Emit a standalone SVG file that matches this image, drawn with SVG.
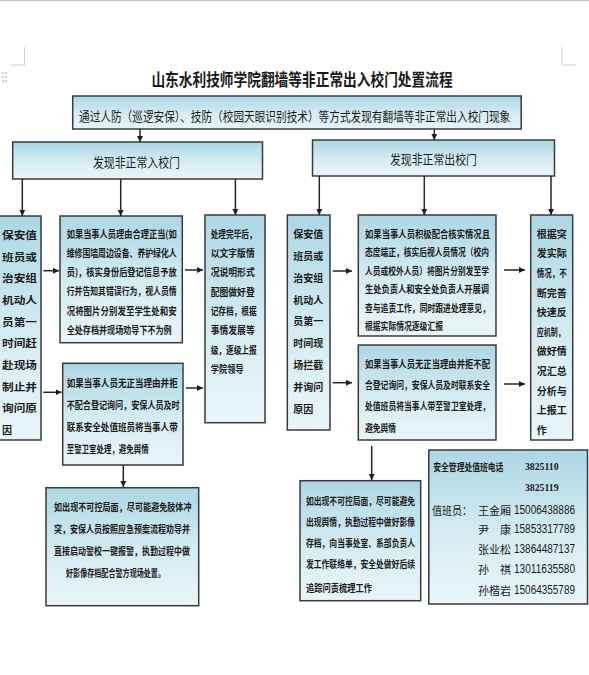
<svg xmlns="http://www.w3.org/2000/svg" width="589" height="675" viewBox="0 0 589 675">
<defs>
<linearGradient id="g" x1="0" y1="0" x2="0" y2="1">
<stop offset="0" stop-color="#acd7e4"/>
<stop offset="0.55" stop-color="#d6ecf2"/>
<stop offset="1" stop-color="#e9f5f8"/>
</linearGradient>
<marker id="a" viewBox="0 0 10 10" refX="10" refY="5" markerWidth="6" markerHeight="6" markerUnits="userSpaceOnUse" orient="auto">
<path d="M0,0 L10,5 L0,10 z" fill="#1e1e1e"/>
</marker>
<style>
.box{fill:url(#g);stroke:#3a3a3a;stroke-width:1.5}
text{fill:#1a1a1a;dominant-baseline:central}
.c{font-family:"Noto Sans CJK SC",sans-serif}
.s{font-family:"Liberation Serif","Noto Sans CJK SC",serif}
.d{font-family:"Liberation Sans Narrow","Liberation Sans",sans-serif;font-size:12.5px}
.b{font-size:10px;font-weight:bold}
.h{font-size:13px;font-weight:normal}
.n{font-size:11px;font-weight:normal}
.conn line{stroke:#262626;stroke-width:1.5;marker-end:url(#a)}
.deco{stroke:#cfcfcf;stroke-width:1;fill:none}
</style>
</defs>
<rect width="589" height="675" fill="#ffffff"/>
<line x1="0" y1="0.5" x2="589" y2="0.5" stroke="#c8c8c8" stroke-width="1.5"/>
<path class="deco" d="M24.5,47 V65 H10.5 M562,47 V65 H576"/>
<g fill="#9a9a9a">
<circle cx="3" cy="73" r="0.8"/><circle cx="6" cy="73" r="0.8"/>
<circle cx="3" cy="77" r="0.8"/><circle cx="6" cy="77" r="0.8"/>
<circle cx="3" cy="81" r="0.8"/><circle cx="6" cy="81" r="0.8"/>
</g>

<text id="title" class="c" transform="translate(302,78) scale(0.83,1)" x="0" y="0" font-size="16.5" font-weight="bold" text-anchor="middle">山东水利技师学院翻墙等非正常出入校门处置流程</text>

<g id="top">
<rect class="box" x="72.7" y="96" width="448.5" height="33"/>
<text class="c h" transform="translate(79,114.5) scale(0.82,1)" x="0" y="0">通过人防（巡逻安保）、技防（校园天眼识别技术）等方式发现有翻墙等非正常出入校门现象</text>
</g>

<g id="in-head">
<rect class="box" x="12.7" y="142" width="249.8" height="37"/>
<text class="c h" x="136.5" y="161" text-anchor="middle" textLength="87" lengthAdjust="spacingAndGlyphs">发现非正常入校门</text>
</g>
<g id="out-head">
<rect class="box" x="312.5" y="140" width="242" height="36"/>
<text class="c h" x="433.5" y="158" text-anchor="middle" textLength="87" lengthAdjust="spacingAndGlyphs">发现非正常出校门</text>
</g>

<g id="in-guard">
<rect class="box" x="-2" y="216" width="43" height="224"/>
<g class="c b">
<text x="2" y="234.3" textLength="35" lengthAdjust="spacingAndGlyphs">保安值</text>
<text x="2" y="256" textLength="35" lengthAdjust="spacingAndGlyphs">班员或</text>
<text x="2" y="277.7" textLength="35" lengthAdjust="spacingAndGlyphs">治安组</text>
<text x="2" y="299.4" textLength="35" lengthAdjust="spacingAndGlyphs">机动人</text>
<text x="2" y="321.1" textLength="35" lengthAdjust="spacingAndGlyphs">员第一</text>
<text x="2" y="342.8" textLength="35" lengthAdjust="spacingAndGlyphs">时间赶</text>
<text x="2" y="364.5" textLength="35" lengthAdjust="spacingAndGlyphs">赴现场</text>
<text x="2" y="386.2" textLength="35" lengthAdjust="spacingAndGlyphs">制止并</text>
<text x="2" y="407.9" textLength="35" lengthAdjust="spacingAndGlyphs">询问原</text>
<text x="2" y="429.6">因</text>
</g>
</g>

<g id="in-ok">
<rect class="box" x="60" y="216" width="122.3" height="126.7"/>
<g class="c b">
<text x="66.7" y="233.3" textLength="110" lengthAdjust="spacingAndGlyphs">如果当事人员理由合理正当(如</text>
<text x="66.7" y="252.5" textLength="110" lengthAdjust="spacingAndGlyphs">维修围墙周边设备、养护绿化人</text>
<text x="66.7" y="271.7" textLength="110" lengthAdjust="spacingAndGlyphs">员)，核实身份后登记信息予放</text>
<text x="66.7" y="290.9" textLength="110" lengthAdjust="spacingAndGlyphs">行并告知其错误行为，视人员情</text>
<text x="66.7" y="310.1" textLength="110" lengthAdjust="spacingAndGlyphs">况将图片分别发至学生处和安</text>
<text x="66.7" y="329.3" textLength="105" lengthAdjust="spacingAndGlyphs">全处存档并现场劝导下不为例</text>
</g>
</g>

<g id="in-refuse">
<rect class="box" x="62.7" y="363.3" width="120.3" height="101.7"/>
<g class="c b">
<text x="66.7" y="382" textLength="111" lengthAdjust="spacingAndGlyphs">如果当事人员无正当理由并拒</text>
<text x="66.7" y="404" textLength="113" lengthAdjust="spacingAndGlyphs">不配合登记询问，安保人员及时</text>
<text x="66.7" y="426" textLength="111" lengthAdjust="spacingAndGlyphs">联系安全处值班员将当事人带</text>
<text x="66.7" y="448" textLength="82" lengthAdjust="spacingAndGlyphs">至警卫室处理，避免舆情</text>
</g>
</g>

<g id="in-report">
<rect class="box" x="205" y="215" width="60" height="207.7"/>
<g class="c b">
<text x="210.7" y="233.3" textLength="46" lengthAdjust="spacingAndGlyphs">处理完毕后，</text>
<text x="210.7" y="252.6" textLength="44" lengthAdjust="spacingAndGlyphs">以文字版情</text>
<text x="210.7" y="271.9" textLength="44" lengthAdjust="spacingAndGlyphs">况说明形式</text>
<text x="210.7" y="291.2" textLength="44" lengthAdjust="spacingAndGlyphs">配图做好登</text>
<text x="210.7" y="310.5" textLength="46" lengthAdjust="spacingAndGlyphs">记存档，根据</text>
<text x="210.7" y="329.8" textLength="44" lengthAdjust="spacingAndGlyphs">事情发展等</text>
<text x="210.7" y="349.1" textLength="46" lengthAdjust="spacingAndGlyphs">级，逐级上报</text>
<text x="210.7" y="368.4" textLength="33" lengthAdjust="spacingAndGlyphs">学院领导</text>
</g>
</g>

<g id="in-emergency">
<rect class="box" x="46" y="487.7" width="152.7" height="118"/>
<g class="c b">
<text x="54" y="506" textLength="137.5" lengthAdjust="spacingAndGlyphs">如出现不可控局面，尽可能避免肢体冲</text>
<text x="54" y="528" textLength="136" lengthAdjust="spacingAndGlyphs">突，安保人员按照应急预案流程劝导并</text>
<text x="54" y="550" textLength="136" lengthAdjust="spacingAndGlyphs">直接启动警校一键报警，执勤过程中做</text>
<text x="66" y="572" textLength="99" lengthAdjust="spacingAndGlyphs">好影像存档配合警方现场处置。</text>
</g>
</g>

<g id="out-guard">
<rect class="box" x="287.3" y="215" width="42.7" height="215"/>
<g class="c b">
<text x="293.3" y="233.3" textLength="30" lengthAdjust="spacingAndGlyphs">保安值</text>
<text x="293.3" y="255.2" textLength="30" lengthAdjust="spacingAndGlyphs">班员或</text>
<text x="293.3" y="277.1" textLength="30" lengthAdjust="spacingAndGlyphs">治安组</text>
<text x="293.3" y="299" textLength="30" lengthAdjust="spacingAndGlyphs">机动人</text>
<text x="293.3" y="320.9" textLength="30" lengthAdjust="spacingAndGlyphs">员第一</text>
<text x="293.3" y="342.8" textLength="30" lengthAdjust="spacingAndGlyphs">时间现</text>
<text x="293.3" y="364.7" textLength="30" lengthAdjust="spacingAndGlyphs">场拦截</text>
<text x="293.3" y="386.6" textLength="30" lengthAdjust="spacingAndGlyphs">并询问</text>
<text x="293.3" y="408.5" textLength="20" lengthAdjust="spacingAndGlyphs">原因</text>
</g>
</g>

<g id="out-ok">
<rect class="box" x="358.3" y="215" width="137.7" height="121"/>
<g class="c b">
<text x="365" y="233.3" textLength="125" lengthAdjust="spacingAndGlyphs">如果当事人员积极配合核实情况且</text>
<text x="365" y="251.8" textLength="124" lengthAdjust="spacingAndGlyphs">态度端正，核实后视人员情况（校内</text>
<text x="365" y="270.3" textLength="124" lengthAdjust="spacingAndGlyphs">人员或校外人员）将图片分别发至学</text>
<text x="365" y="288.8" textLength="124" lengthAdjust="spacingAndGlyphs">生处负责人和安全处负责人开展调</text>
<text x="365" y="307.3" textLength="125" lengthAdjust="spacingAndGlyphs">查与追责工作，同时跟进处理意见，</text>
<text x="365" y="325.8" textLength="78" lengthAdjust="spacingAndGlyphs">根据实际情况逐级汇报</text>
</g>
</g>

<g id="out-refuse">
<rect class="box" x="358.3" y="345" width="137.7" height="95"/>
<g class="c b">
<text x="365" y="363.3" textLength="125" lengthAdjust="spacingAndGlyphs">如果当事人员无正当理由并拒不配</text>
<text x="365" y="384.6" textLength="125" lengthAdjust="spacingAndGlyphs">合登记询问，安保人员及时联系安全</text>
<text x="365" y="405.9" textLength="125" lengthAdjust="spacingAndGlyphs">处值班员将当事人带至警卫室处理，</text>
<text x="365" y="427.2" textLength="31" lengthAdjust="spacingAndGlyphs">避免舆情</text>
</g>
</g>

<g id="out-report">
<rect class="box" x="530.7" y="215" width="42" height="225"/>
<g class="c b">
<text x="536.7" y="233.3" textLength="30" lengthAdjust="spacingAndGlyphs">根据突</text>
<text x="536.7" y="252.9" textLength="30" lengthAdjust="spacingAndGlyphs">发实际</text>
<text x="536.7" y="272.5" textLength="30" lengthAdjust="spacingAndGlyphs">情况，不</text>
<text x="536.7" y="292.1" textLength="30" lengthAdjust="spacingAndGlyphs">断完善</text>
<text x="536.7" y="311.7" textLength="30" lengthAdjust="spacingAndGlyphs">快速反</text>
<text x="536.7" y="331.3" textLength="28" lengthAdjust="spacingAndGlyphs">应机制，</text>
<text x="536.7" y="350.9" textLength="30" lengthAdjust="spacingAndGlyphs">做好情</text>
<text x="536.7" y="370.5" textLength="30" lengthAdjust="spacingAndGlyphs">况汇总</text>
<text x="536.7" y="390.1" textLength="30" lengthAdjust="spacingAndGlyphs">分析与</text>
<text x="536.7" y="409.7" textLength="30" lengthAdjust="spacingAndGlyphs">上报工</text>
<text x="536.7" y="429.3">作</text>
</g>
</g>

<g id="out-emergency">
<rect class="box" x="300" y="480.7" width="120.7" height="120"/>
<g class="c b">
<text x="306" y="500" textLength="109" lengthAdjust="spacingAndGlyphs">如出现不可控局面，尽可能避免</text>
<text x="306" y="521.7" textLength="109" lengthAdjust="spacingAndGlyphs">出现舆情，执勤过程中做好影像</text>
<text x="306" y="542.7" textLength="109" lengthAdjust="spacingAndGlyphs">存档，向当事处室、系部负责人</text>
<text x="306" y="563.3" textLength="109" lengthAdjust="spacingAndGlyphs">发工作联络单，安全处做好后续</text>
<text x="306" y="587.3" textLength="66" lengthAdjust="spacingAndGlyphs">追踪问责梳理工作</text>
</g>
</g>

<g id="contact">
<rect class="box" x="428.8" y="450" width="158.7" height="154"/>
<text class="c b" x="433.3" y="466" textLength="70" lengthAdjust="spacingAndGlyphs">安全管理处值班电话</text>
<text class="s" x="525" y="466" font-size="11" font-weight="bold" textLength="33.5" lengthAdjust="spacingAndGlyphs">3825110</text>
<text class="s" x="525" y="486.7" font-size="11" font-weight="bold" textLength="33.5" lengthAdjust="spacingAndGlyphs">3825119</text>
<g class="c n">
<text x="432" y="510" textLength="40" lengthAdjust="spacingAndGlyphs">值班员：</text>
<text x="478" y="510">王金厢</text>
<text x="478" y="529.3">尹</text>
<text x="500" y="529.3">康</text>
<text x="478" y="548.6">张业松</text>
<text x="478" y="568.6">孙</text>
<text x="500" y="568.6">祺</text>
<text x="478" y="590">孙楷岩</text>
</g>
<g>
<text class="d" x="514" y="510" textLength="61" lengthAdjust="spacingAndGlyphs">15006438886</text>
<text class="d" x="514" y="529.3" textLength="61" lengthAdjust="spacingAndGlyphs">15853317789</text>
<text class="d" x="514" y="548.6" textLength="61" lengthAdjust="spacingAndGlyphs">13864487137</text>
<text class="d" x="514" y="568.6" textLength="61" lengthAdjust="spacingAndGlyphs">13011635580</text>
<text class="d" x="514" y="590" textLength="61" lengthAdjust="spacingAndGlyphs">15064355789</text>
</g>
</g>

<g class="conn">
<line x1="140" y1="129" x2="140" y2="142"/>
<line x1="434.3" y1="129" x2="434.3" y2="140"/>
<line x1="22.3" y1="179" x2="22.3" y2="216"/>
<line x1="120.7" y1="179" x2="120.7" y2="216"/>
<line x1="235.4" y1="179" x2="235.4" y2="215"/>
<line x1="319.3" y1="176" x2="319.3" y2="215"/>
<line x1="424.3" y1="176" x2="424.3" y2="215"/>
<line x1="551" y1="176" x2="551" y2="215"/>
<line x1="43.3" y1="270.7" x2="59" y2="270.7"/>
<line x1="43.3" y1="392.3" x2="61.5" y2="392.3"/>
<line x1="185" y1="270" x2="203" y2="270"/>
<line x1="186" y1="388" x2="203" y2="388"/>
<line x1="332.7" y1="271" x2="352" y2="271"/>
<line x1="332.7" y1="382.7" x2="352" y2="382.7"/>
<line x1="504" y1="270" x2="525" y2="270"/>
<line x1="504" y1="384" x2="525" y2="384"/>
<line x1="123.3" y1="465" x2="123.3" y2="487"/>
<line x1="371.7" y1="446" x2="371.7" y2="480"/>
</g>
</svg>
